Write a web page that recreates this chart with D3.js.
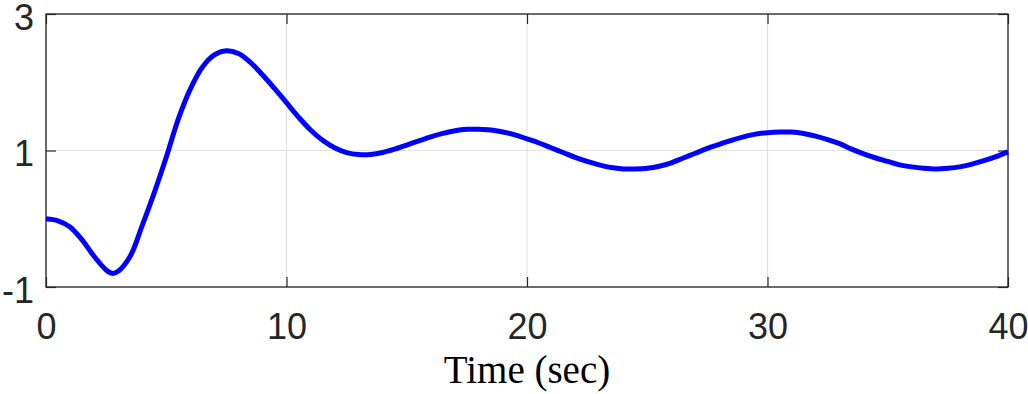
<!DOCTYPE html>
<html>
<head>
<meta charset="utf-8">
<script src="https://cdn.jsdelivr.net/npm/d3@7"></script>
<style>
  body { margin: 0; background: #fff; }
  svg { display: block; }
  .tick text { font-family: "Liberation Sans", Arial, sans-serif; font-size: 36px; fill: #262626; }
</style>
</head>
<body>
<svg width="1028" height="394"></svg>
<script>
"use strict";

// time samples (sec), every half second plus the first trough
const time = [0, 0.5, 1, 1.5, 2, 2.5, 2.75, 3, 3.5, 4, 4.5, 5, 5.5, 6, 6.5, 7, 7.5, 8, 8.5, 9, 9.5,
  10, 10.5, 11, 11.5, 12, 12.5, 13, 13.5, 14, 14.5, 15, 15.5, 16, 16.5, 17, 17.5, 18, 18.5, 19, 19.5,
  20, 20.5, 21, 21.5, 22, 22.5, 23, 23.5, 24, 24.5, 25, 25.5, 26, 26.5, 27, 27.5, 28, 28.5, 29, 29.5,
  30, 30.5, 31, 31.5, 32, 32.5, 33, 33.5, 34, 34.5, 35, 35.5, 36, 36.5, 37, 37.5, 38, 38.5, 39, 39.5, 40];
// response
const response = [0.00, -0.03, -0.12, -0.31, -0.55, -0.75, -0.80, -0.77, -0.55, -0.10, 0.38, 0.90, 1.46, 1.90, 2.22, 2.40, 2.46, 2.42, 2.29, 2.11, 1.91,
  1.70, 1.49, 1.30, 1.15, 1.04, 0.97, 0.94, 0.94, 0.97, 1.02, 1.08, 1.14, 1.20, 1.25, 1.29, 1.31, 1.31, 1.30, 1.27, 1.23,
  1.17, 1.11, 1.04, 0.97, 0.90, 0.84, 0.79, 0.75, 0.73, 0.73, 0.74, 0.77, 0.82, 0.89, 0.96, 1.03, 1.09, 1.15, 1.20, 1.24,
  1.26, 1.27, 1.27, 1.25, 1.21, 1.16, 1.10, 1.02, 0.95, 0.89, 0.84, 0.79, 0.76, 0.74, 0.73, 0.74, 0.76, 0.80, 0.85, 0.91, 0.98];

const xTicks = [0, 10, 20, 30, 40];
const yTicks = [-1, 1, 3];
const xLabel = "Time (sec)";

const margin = {left: 46, top: 14, right: 20, bottom: 107};
const width = 1028 - margin.left - margin.right;
const height = 394 - margin.top - margin.bottom;

const svg = d3.select("svg");
const chart = svg.append("g")
  .attr("transform", `translate(${margin.left}, ${margin.top})`);

const xScale = d3.scaleLinear().domain([0, 40]).range([0, width]);
const yScale = d3.scaleLinear().domain([-1, 3]).range([height, 0]);

// grid
chart.append("g")
  .selectAll("line")
  .data(xTicks)
  .enter().append("line")
  .attr("x1", d => xScale(d)).attr("x2", d => xScale(d))
  .attr("y1", 0).attr("y2", height)
  .attr("stroke", "#e3e3e3").attr("stroke-width", 1.2);
chart.append("g")
  .selectAll("line")
  .data(yTicks)
  .enter().append("line")
  .attr("x1", 0).attr("x2", width)
  .attr("y1", d => yScale(d)).attr("y2", d => yScale(d))
  .attr("stroke", "#e3e3e3").attr("stroke-width", 1.2);

// axes, ticks pointing in (plain hyphen for the minus, like the original)
const fmt = d => String(d);
const axBottom = chart.append("g")
  .attr("transform", `translate(0, ${height})`)
  .call(d3.axisBottom(xScale).tickValues(xTicks).tickFormat(fmt).tickSizeInner(-10).tickSizeOuter(0).tickPadding(26));
const axLeft = chart.append("g")
  .call(d3.axisLeft(yScale).tickValues(yTicks).tickFormat(fmt).tickSizeInner(-10).tickSizeOuter(0).tickPadding(12));
const axTop = chart.append("g")
  .call(d3.axisTop(xScale).tickValues(xTicks).tickSizeInner(-10).tickSizeOuter(0).tickFormat(""));
const axRight = chart.append("g")
  .attr("transform", `translate(${width}, 0)`)
  .call(d3.axisRight(yScale).tickValues(yTicks).tickSizeInner(-10).tickSizeOuter(0).tickFormat(""));

[axBottom, axLeft, axTop, axRight].forEach(a => {
  a.select(".domain").remove();
  a.selectAll(".tick line").attr("stroke", "#262626").attr("stroke-width", 1.2);
});
axLeft.selectAll(".tick text").attr("dy", "0.42em");

// box
chart.append("rect")
  .attr("x", 0).attr("y", 0)
  .attr("width", width).attr("height", height)
  .attr("fill", "none")
  .attr("stroke", "#262626")
  .attr("stroke-width", 1.3);

// response curve
const pts = time.map((t, i) => [t, response[i]]);
const line = d3.line()
  .x(d => xScale(d[0]))
  .y(d => yScale(d[1]))
  .curve(d3.curveCatmullRom);
chart.append("path")
  .datum(pts)
  .attr("d", line)
  .attr("fill", "none")
  .attr("stroke", "#0000ff")
  .attr("stroke-width", 5)
  .attr("stroke-linejoin", "round");

// x label
svg.append("text")
  .attr("x", margin.left + width / 2)
  .attr("y", 383)
  .attr("text-anchor", "middle")
  .attr("font-family", "'Liberation Serif', 'Times New Roman', serif")
  .attr("font-size", 39)
  .attr("fill", "#000")
  .text(xLabel);
</script>
</body>
</html>
